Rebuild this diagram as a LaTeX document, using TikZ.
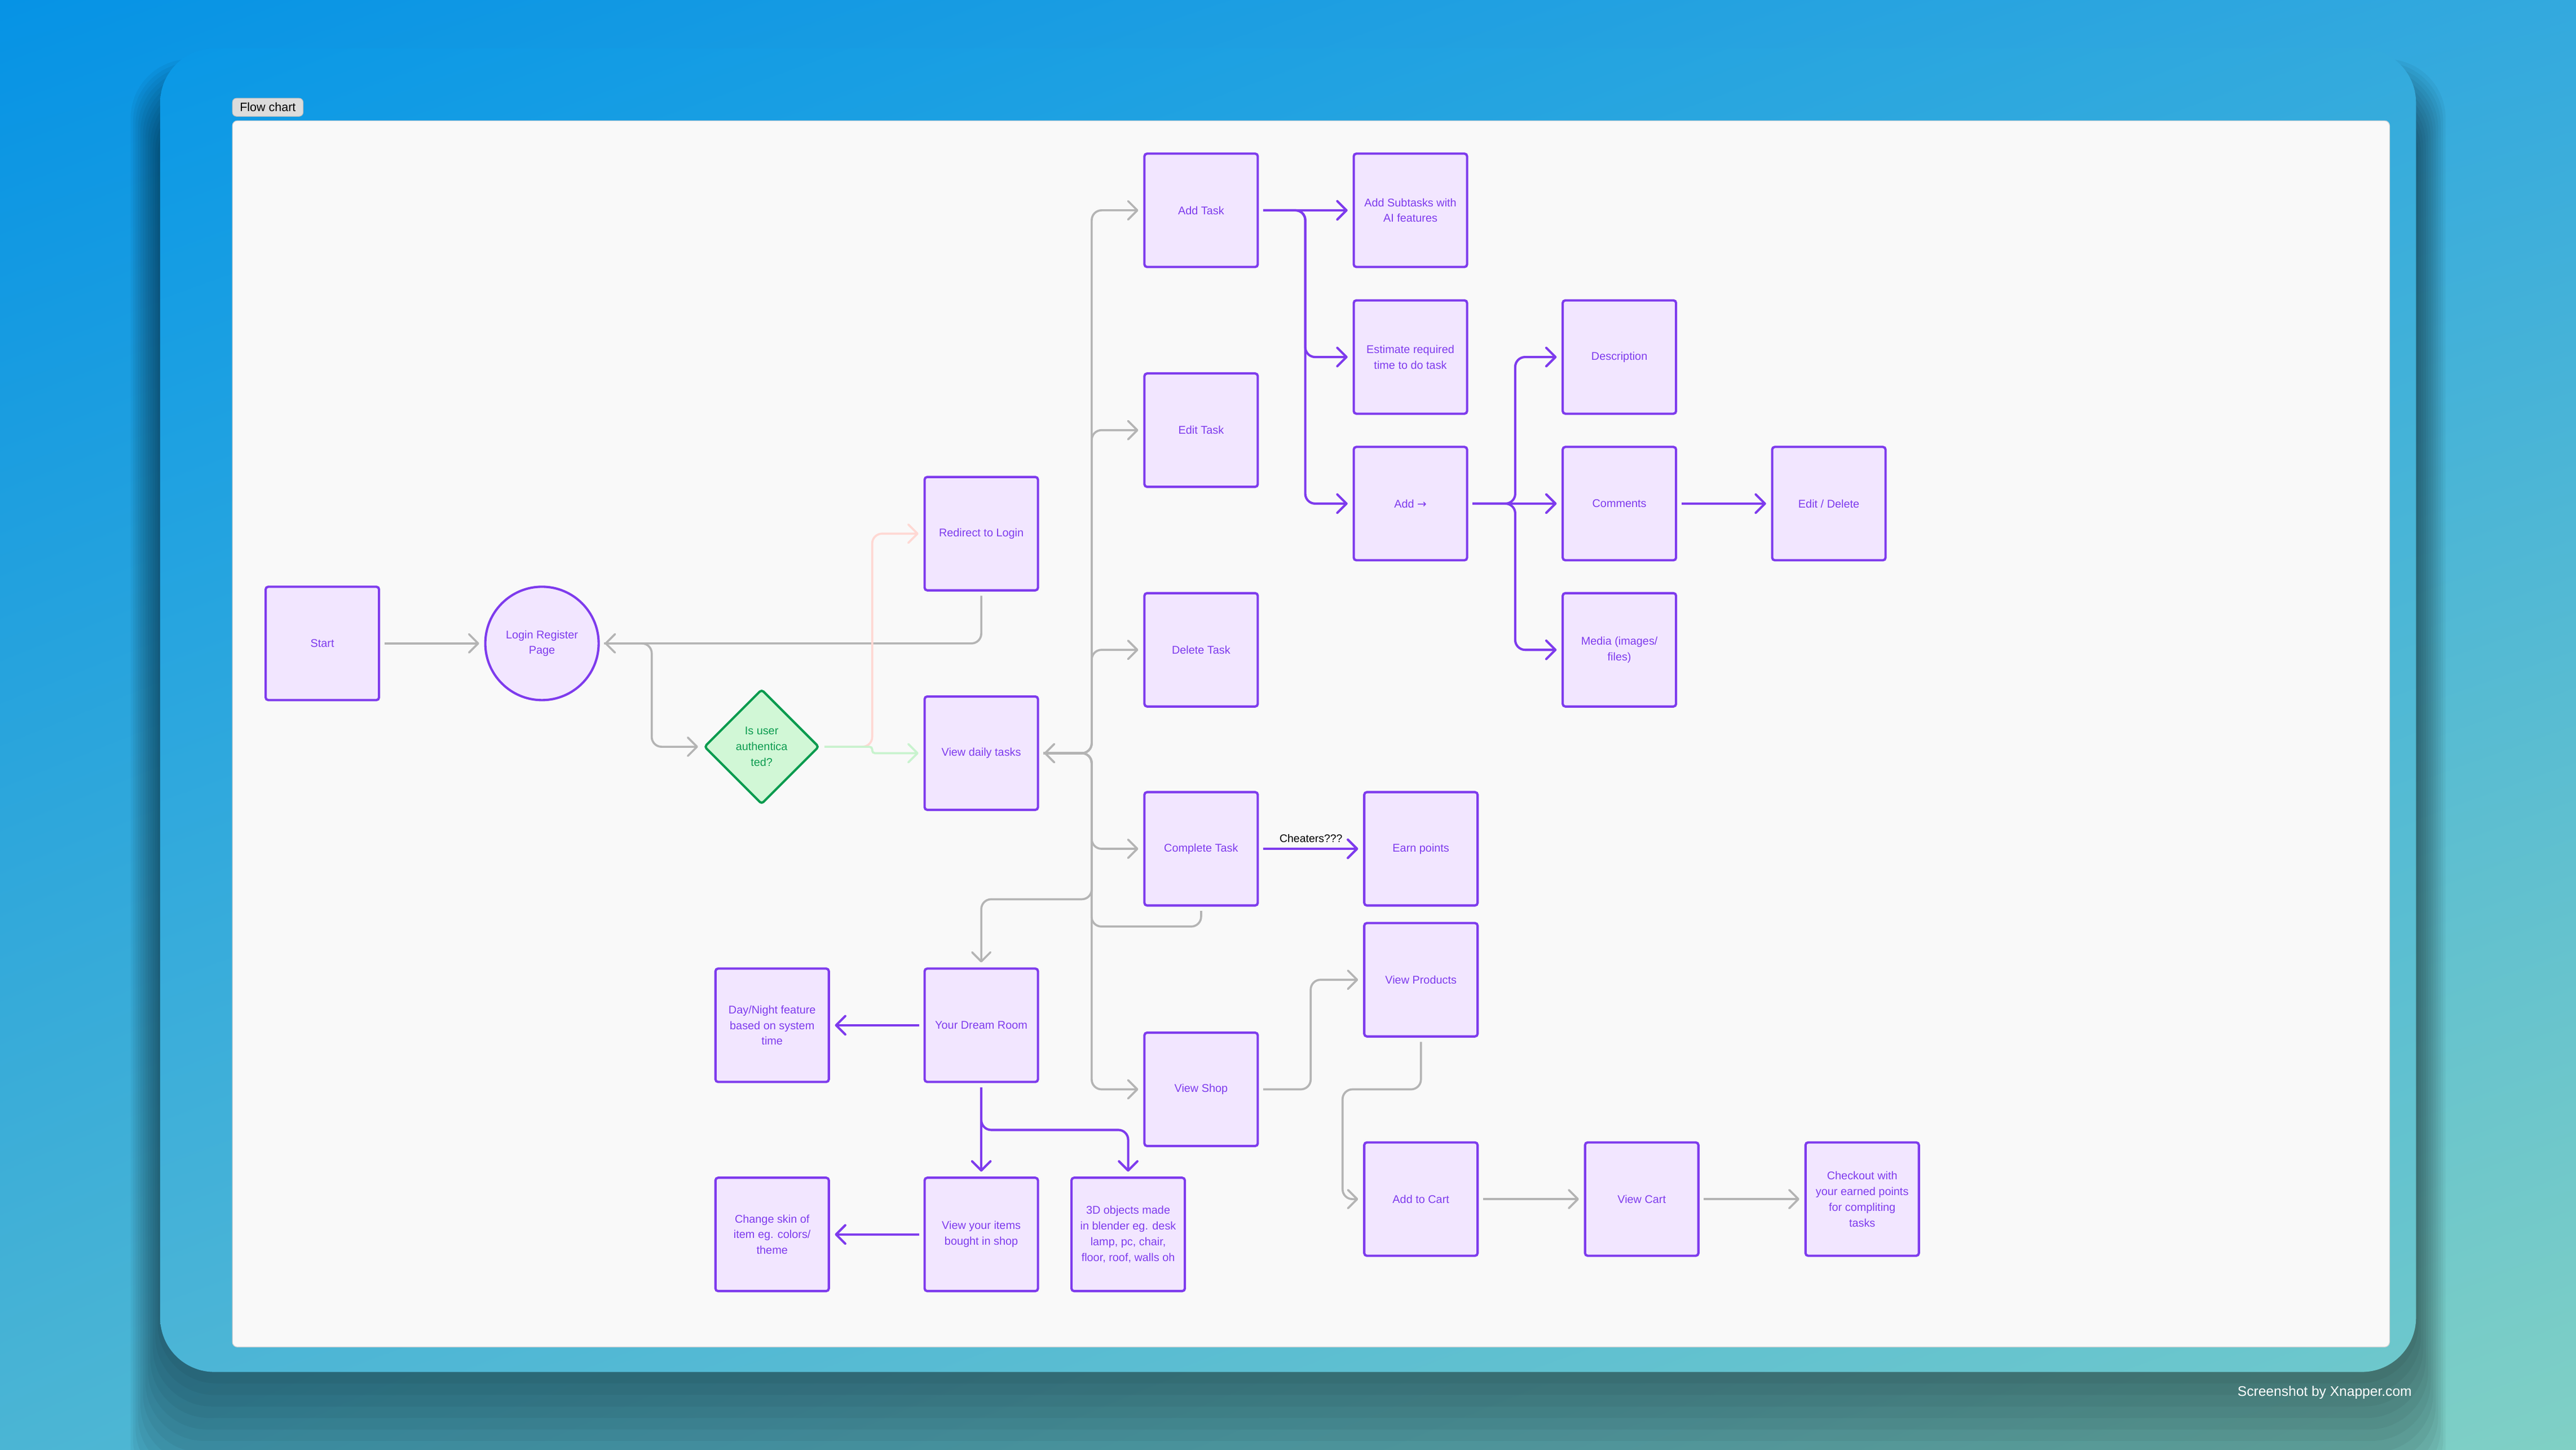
\documentclass[tikz,border=0pt]{standalone}
\usepackage{fontspec}
\setmainfont{Liberation Sans}
\newfontfamily\arrowfont{DejaVu Sans}
\usetikzlibrary{arrows.meta,shapes.geometric,shadings}

\definecolor{flowpurple}{HTML}{7E3BED}
\definecolor{boxfill}{HTML}{F2E6FF}
\definecolor{linegray}{HTML}{B4B4B4}
\definecolor{decfill}{HTML}{D1F7D6}
\definecolor{decgreen}{HTML}{0B9B4F}
\definecolor{pinkline}{HTML}{FFD8D3}
\definecolor{greenline}{HTML}{C8F3CE}
\definecolor{panel}{HTML}{F9F9F9}
\definecolor{panelline}{HTML}{D4D4D4}
\definecolor{tagfill}{HTML}{DCDCDC}
\definecolor{tagline}{HTML}{BDBDBD}
\definecolor{bgtl}{HTML}{0693E5}
\definecolor{bgtr}{HTML}{33A9DE}
\definecolor{bgbl}{HTML}{4BB5D4}
\definecolor{bgbr}{HTML}{80D0C5}
\definecolor{cardtl}{HTML}{0A98E6}
\definecolor{cardtr}{HTML}{33AADD}
\definecolor{cardbl}{HTML}{4CB5D6}
\definecolor{cardbr}{HTML}{6EC8CC}

\tikzset {>={Straight Barb[length=0.28cm,width=0.56cm,round]}}
\tikzset{
  taskbox/.style={draw=flowpurple, fill=boxfill, line width=2pt, rounded corners=0.08cm,
    minimum width=3.45cm, minimum height=3.45cm, inner sep=0pt, align=center,
    text=flowpurple, font=\fontsize{9.7}{13.6}\selectfont},
  logincircle/.style={taskbox, circle, minimum size=3.45cm},
  decision/.style={taskbox, diamond, shape aspect=1, draw=decgreen, fill=decfill,
    text=decgreen, minimum width=3.5cm, minimum height=3.5cm},
  flow/.style={->, draw=flowpurple, line width=2pt, rounded corners=0.3cm,
    shorten >=0.15cm, shorten <=0.13cm},
  link/.style={flow, draw=linegray, line width=1.8pt},
  tagbox/.style={draw=tagline, fill=tagfill, line width=0.5pt, rounded corners=0.12cm,
    minimum width=2.15cm, minimum height=0.55cm, inner sep=0pt,
    font=\fontsize{10.5}{12}\selectfont},
  creditnote/.style={text=white, font=\fontsize{12}{14}\selectfont}
}

\begin{document}
\begin{tikzpicture}[x=0.05cm,y=-0.05cm]
\useasboundingbox (0,0) rectangle (1568,882.2);
% backdrop and card
\shade[upper left=bgtl, upper right=bgtr, lower left=bgbl, lower right=bgbr] (0,0) rectangle (1568,882.2);
\foreach \s in {1,...,12}
  \fill[black, opacity=0.045, rounded corners=1.8cm] (97.5-1.5*\s,60-2*\s) rectangle (1470.6+1.5*\s,835+7*\s);
\shade[rounded corners=1.65cm, upper left=cardtl, upper right=cardtr, lower left=cardbl, lower right=cardbr] (97.5,29.5) rectangle (1470.6,835);
\draw[fill=panel, draw=panelline, line width=0.6pt, rounded corners=0.15cm] (141.5,73.5) rectangle (1454.5,819.8);
\node[tagbox] (tag) at (163,65.3) {Flow chart};
\node[creditnote] (credit) at (1415,847.5) {Screenshot by Xnapper.com};

% login part
\node[taskbox] (start) at (196.2,391.6) {Start};
\node[logincircle] (login) at (329.9,391.6) {Login Register\\Page};
\node[decision] (auth) at (463.6,454.5) {Is user\\authentica\\ted?};
\node[taskbox] (redirect) at (597.3,324.8) {Redirect to Login};
\node[taskbox] (daily) at (597.3,458.4) {View daily tasks};

% tasks
\node[taskbox] (addtask) at (731.1,128) {Add Task};
\node[taskbox] (edittask) at (731.1,261.8) {Edit Task};
\node[taskbox] (deltask) at (731.1,395.5) {Delete Task};
\node[taskbox] (donetask) at (731.1,516.6) {Complete Task};
\node[taskbox] (shop) at (731.1,663) {View Shop};
\node[taskbox] (subtasks) at (858.5,128) {Add Subtasks with\\AI features};
\node[taskbox] (estimate) at (858.5,217.3) {Estimate required\\time to do task};
\node[taskbox] (addmore) at (858.5,306.5) {Add {\arrowfont →}};
\node[taskbox] (descr) at (985.7,217.3) {Description};
\node[taskbox] (comments) at (985.7,306.5) {Comments};
\node[taskbox] (media) at (985.7,395.5) {Media (images/\\files)};
\node[taskbox] (editdel) at (1113.2,306.5) {Edit / Delete};

% points and shop
\node[taskbox] (points) at (864.9,516.6) {Earn points};
\node[taskbox] (products) at (864.9,596.3) {View Products};
\node[taskbox] (cart) at (864.9,729.8) {Add to Cart};
\node[taskbox] (viewcart) at (999.3,729.8) {View Cart};
\node[taskbox] (checkout) at (1133.5,729.8) {Checkout with\\your earned points\\for compliting\\tasks};

% dream room
\node[taskbox] (room) at (597.3,624) {Your Dream Room};
\node[taskbox] (daynight) at (470,624) {Day/Night feature\\based on system\\time};
\node[taskbox] (items) at (597.3,751.3) {View your items\\bought in shop};
\node[taskbox] (skin) at (470,751.3) {Change skin of\\item eg. colors/\\theme};
\node[taskbox] (objects) at (686.7,751.3) {3D objects made\\in blender eg. desk\\lamp, pc, chair,\\floor, roof, walls oh};

% connectors
\draw[link] (start.east) -- (login.west);
\draw[link] (redirect.south) |- (login.east);
\draw[link] (login.east) -- ++(31.6,0) |- (auth.west);
\draw[flow, draw=pinkline, line width=1.8pt] (auth.east) -- ++(31.6,0) |- (redirect.west);
\draw[flow, draw=greenline, line width=1.8pt, rounded corners=0.08cm] (auth.east) -- ++(31.6,0) |- (daily.west);
\draw[link] (daily.east) -- ++(32,0) |- (addtask.west);
\draw[link] (daily.east) -- ++(32,0) |- (edittask.west);
\draw[link] (daily.east) -- ++(32,0) |- (deltask.west);
\draw[link] (daily.east) -- ++(32,0) |- (donetask.west);
\draw[link] (daily.east) -- ++(32,0) |- (shop.west);
\draw[link] (daily.east) -- ++(32,0) -- ++(0,88.9) -| (room.north);
\draw[link] (donetask.south) |- ++(-66.7,12.1) |- (daily.east);

\draw[flow] (addtask.east) -- (subtasks.west);
\draw[flow] (addtask.east) -- ++(28.2,0) |- (estimate.west);
\draw[flow] (addtask.east) -- ++(28.2,0) |- (addmore.west);
\draw[flow] (addmore.east) -- ++(28.6,0) |- (descr.west);
\draw[flow] (addmore.east) -- (comments.west);
\draw[flow] (addmore.east) -- ++(28.6,0) |- (media.west);
\draw[flow] (comments.east) -- (editdel.west);
\draw[flow] (donetask.east) -- node[above=1pt, text=black, font=\fontsize{9.5}{11}\selectfont] {Cheaters???} (points.west);

\draw[link] (shop.east) -- ++(31.5,0) |- (products.west);
\draw[link] (products.south) |- ++(-47.7,31.5) |- (cart.west);
\draw[link] (cart.east) -- (viewcart.west);
\draw[link] (viewcart.east) -- (checkout.west);

\draw[flow] (room.west) -- (daynight.east);
\draw[flow] (room.south) -- (items.north);
\draw[flow] (room.south) -- ++(0,28.5) -| (objects.north);
\draw[flow] (items.west) -- (skin.east);
\end{tikzpicture}
\end{document}
